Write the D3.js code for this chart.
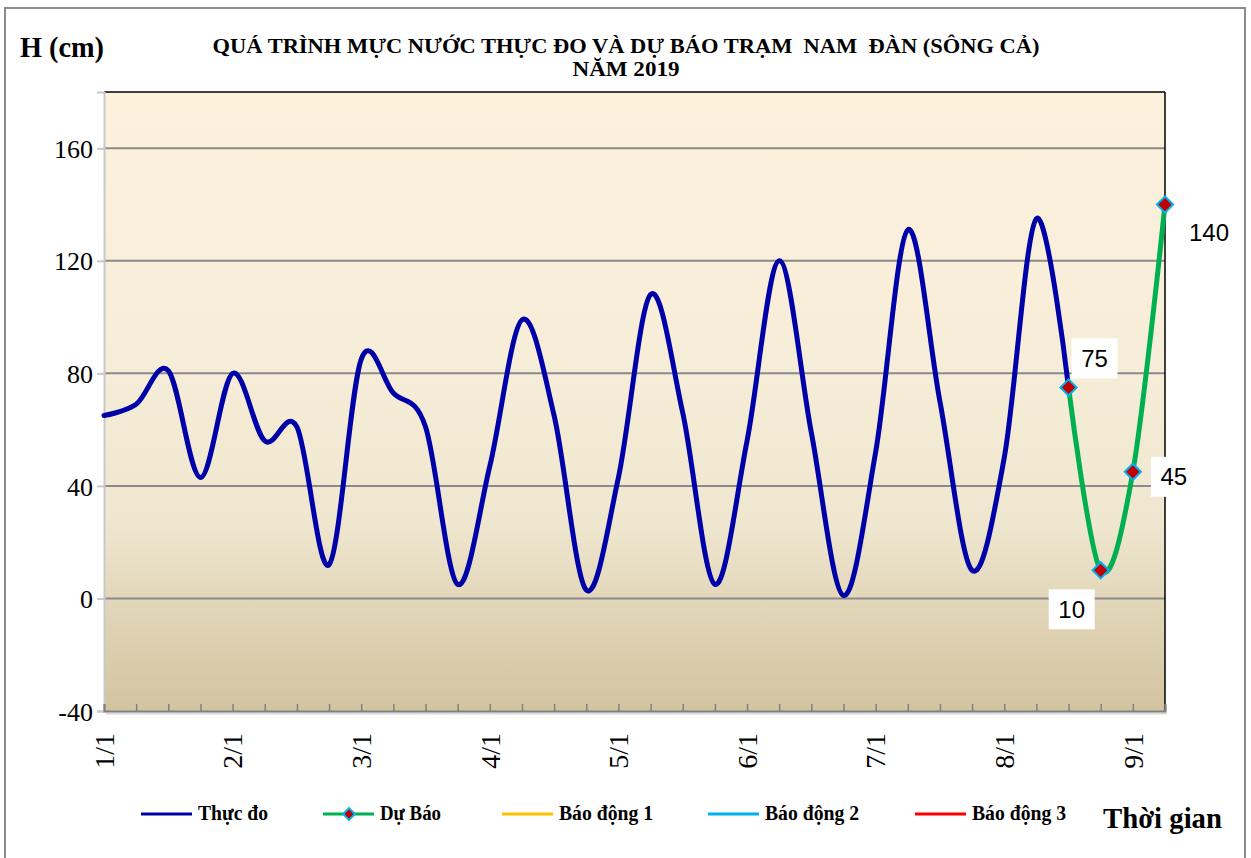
<!DOCTYPE html>
<html>
<head>
<meta charset="utf-8">
<script src="https://cdn.jsdelivr.net/npm/d3@7/dist/d3.min.js"></script>
<style>
  html, body { margin: 0; padding: 0; background: #ffffff; }
  svg { display: block; }
  .pre { white-space: pre; }
</style>
</head>
<body>
<svg id="chart" width="1251" height="858"></svg>
<script>
// ---------------- DATA ----------------
const titleLine1 = "QUÁ TRÌNH MỰC NƯỚC THỰC ĐO VÀ DỰ BÁO TRẠM  NAM  ĐÀN (SÔNG CẢ)";
const titleLine2 = "NĂM 2019";
const yAxisTitle = "H (cm)";
const xAxisTitle = "Thời gian";
const tickLabels = ["1/1", "2/1", "3/1", "4/1", "5/1", "6/1", "7/1", "8/1", "9/1"];
const yTicks = [-40, 0, 40, 80, 120, 160];
const yDomain = [-40, 180];
const categoryCount = 34;   // category slots along the axis
const tickEvery = 4;        // one label every 4 slots
// observed water level (Thực đo), slots 0..30
const observed = [65, 69, 81, 43, 80, 56, 61, 12, 85, 73, 61, 5, 47, 99, 65, 3, 43,
                  108, 66, 5, 56, 120, 59, 1, 52, 131, 70, 10, 50, 135, 75];
// forecast (Dự Báo), slots 30..33
const forecastStart = 30;
const forecast = [75, 10, 45, 140];
const legendNames = ["Thực đo", "Dự Báo", "Báo động 1", "Báo động 2", "Báo động 3"];
const legendColors = ["#0000a8", "#00b050", "#ffc000", "#00b0f0", "#ff0000"];

// ---------------- LAYOUT ----------------
const svg = d3.select("#chart");
const plot = { left: 104, right: 1165, top: 92, bottom: 711 };
const serif = "'Liberation Serif', 'Times New Roman', serif";
const sans = "'Liberation Sans', Arial, sans-serif";

const x = d3.scaleLinear().domain([0, categoryCount - 1]).range([plot.left, plot.right]);
const y = d3.scaleLinear().domain(yDomain).range([plot.bottom, plot.top]);

// outer frame
svg.append("rect").attr("x", 5).attr("y", 8).attr("width", 1240).attr("height", 870)
  .attr("fill", "#ffffff").attr("stroke", "#8c8c8c").attr("stroke-width", 2);

// background gradient
const defs = svg.append("defs");
const grad = defs.append("linearGradient").attr("id", "bg").attr("x1", 0).attr("y1", 0).attr("x2", 0).attr("y2", 1);
[[0, "#fdf1dc"], [0.45, "#f6edd8"], [0.7, "#efe6cf"], [0.82, "#e2d7ba"], [1, "#d3c4a0"]]
  .forEach(([o, c]) => grad.append("stop").attr("offset", o).attr("stop-color", c));

svg.append("rect")
  .attr("x", plot.left).attr("y", plot.top)
  .attr("width", plot.right - plot.left).attr("height", plot.bottom - plot.top)
  .attr("fill", "url(#bg)");

// gridlines
svg.append("g").selectAll("line").data(yTicks.filter(v => v > yDomain[0]))
  .join("line")
  .attr("x1", plot.left).attr("x2", plot.right)
  .attr("y1", d => y(d)).attr("y2", d => y(d))
  .attr("stroke", "#8a8a8a").attr("stroke-width", 2);

// plot border top/right
svg.append("line").attr("x1", plot.left).attr("x2", plot.right).attr("y1", plot.top).attr("y2", plot.top)
  .attr("stroke", "#000").attr("stroke-width", 1.5);
svg.append("line").attr("x1", plot.right).attr("x2", plot.right).attr("y1", plot.top).attr("y2", plot.bottom)
  .attr("stroke", "#000").attr("stroke-width", 1.5);

// y axis
const yAxis = d3.axisLeft(y).tickValues(yTicks).tickSize(7).tickFormat(d => String(d));
const gy = svg.append("g").attr("transform", `translate(${plot.left},0)`).call(yAxis);
gy.select(".domain").attr("stroke", "#c8c8c8").attr("stroke-width", 2);
gy.selectAll(".tick line").attr("stroke", "#c8c8c8").attr("stroke-width", 2);
gy.selectAll(".tick text").attr("font-family", serif).attr("font-size", 26).attr("fill", "#000")
  .attr("x", -11).attr("dy", "0.35em");

// x axis (shadow + ticks inside)
svg.append("line").attr("x1", plot.left + 2).attr("x2", plot.right + 2)
  .attr("y1", plot.bottom + 2.5).attr("y2", plot.bottom + 2.5)
  .attr("stroke", "#d9d9d9").attr("stroke-width", 2);
const xAxis = d3.axisBottom(x).tickValues(d3.range(0, categoryCount)).tickSize(-7).tickFormat("");
const gx = svg.append("g").attr("transform", `translate(0,${plot.bottom})`).call(xAxis);
gx.select(".domain").attr("stroke", "#808080").attr("stroke-width", 2);
gx.selectAll(".tick line").attr("stroke", "#808080").attr("stroke-width", 1.5);

// x labels rotated
svg.append("g").selectAll("text").data(tickLabels)
  .join("text")
  .attr("transform", (d, i) => `translate(${x(i * tickEvery)},733) rotate(-90)`)
  .attr("text-anchor", "end").attr("dy", "0.35em")
  .attr("font-family", serif).attr("font-size", 28).attr("fill", "#000")
  .text(d => d);

// lines
const line = d3.line().x(d => x(d[0])).y(d => y(d[1])).curve(d3.curveCardinal.tension(0));
const obsPts = observed.map((v, i) => [i, v]);
const fcPts = forecast.map((v, i) => [forecastStart + i, v]);

svg.append("path").datum(obsPts).attr("d", line)
  .attr("fill", "none").attr("stroke", legendColors[0]).attr("stroke-width", 5)
  .attr("stroke-linejoin", "round").attr("stroke-linecap", "round");
svg.append("path").datum(fcPts).attr("d", line)
  .attr("fill", "none").attr("stroke", legendColors[1]).attr("stroke-width", 5)
  .attr("stroke-linejoin", "round");

// markers
svg.append("g").selectAll("path").data(fcPts).join("path")
  .attr("d", d3.symbol().type(d3.symbolSquare).size(130))
  .attr("transform", d => `translate(${x(d[0])},${y(d[1])}) rotate(45)`)
  .attr("fill", "#c00000").attr("stroke", "#00b0f0").attr("stroke-width", 2);

// data labels (offsets are styling)
const labelOffsets = [[26, -29], [-29, 39], [41, 5], [44, 28]];
const lbl = svg.append("g").selectAll("g").data(fcPts).join("g")
  .attr("transform", (d, i) => `translate(${x(d[0]) + labelOffsets[i][0]},${y(d[1]) + labelOffsets[i][1]})`);
lbl.append("rect").attr("x", -23).attr("y", -20).attr("width", 46).attr("height", 40).attr("fill", "#ffffff");
lbl.append("text").attr("text-anchor", "middle").attr("dy", "0.36em")
  .attr("font-family", sans).attr("font-size", 24).attr("fill", "#000")
  .text(d => d[1]);

// titles
svg.append("text").attr("class", "pre").attr("x", 626).attr("y", 53).attr("text-anchor", "middle")
  .attr("font-family", serif).attr("font-weight", "bold").attr("font-size", 20)
  .attr("textLength", 827).attr("lengthAdjust", "spacingAndGlyphs")
  .text(titleLine1);
svg.append("text").attr("x", 626).attr("y", 76).attr("text-anchor", "middle")
  .attr("font-family", serif).attr("font-weight", "bold").attr("font-size", 20)
  .attr("textLength", 107).attr("lengthAdjust", "spacingAndGlyphs")
  .text(titleLine2);
svg.append("text").attr("x", 20).attr("y", 57)
  .attr("font-family", serif).attr("font-weight", "bold").attr("font-size", 29)
  .attr("textLength", 84).attr("lengthAdjust", "spacingAndGlyphs")
  .text(yAxisTitle);
svg.append("text").attr("x", 1103).attr("y", 828)
  .attr("font-family", serif).attr("font-weight", "bold").attr("font-size", 30)
  .attr("textLength", 119).attr("lengthAdjust", "spacingAndGlyphs")
  .text(xAxisTitle);

// legend
const legendX = [141, 323, 502, 708, 915];
const legendW = [70, 61, 94, 94, 94];
const legY = 814;
const lg = svg.append("g").selectAll("g").data(legendNames).join("g")
  .attr("transform", (d, i) => `translate(${legendX[i]},${legY})`);
lg.append("line").attr("x1", 0).attr("x2", 51).attr("y1", 0).attr("y2", 0)
  .attr("stroke", (d, i) => legendColors[i]).attr("stroke-width", 3);
lg.filter((d, i) => i === 1).append("path")
  .attr("d", d3.symbol().type(d3.symbolSquare).size(70))
  .attr("transform", "translate(26,0) rotate(45)")
  .attr("fill", "#c00000").attr("stroke", "#00b0f0").attr("stroke-width", 2);
lg.append("text").attr("x", 57).attr("y", 6)
  .attr("font-family", serif).attr("font-weight", "bold").attr("font-size", 20)
  .attr("textLength", (d, i) => legendW[i]).attr("lengthAdjust", "spacingAndGlyphs")
  .text(d => d);
</script>
</body>
</html>
